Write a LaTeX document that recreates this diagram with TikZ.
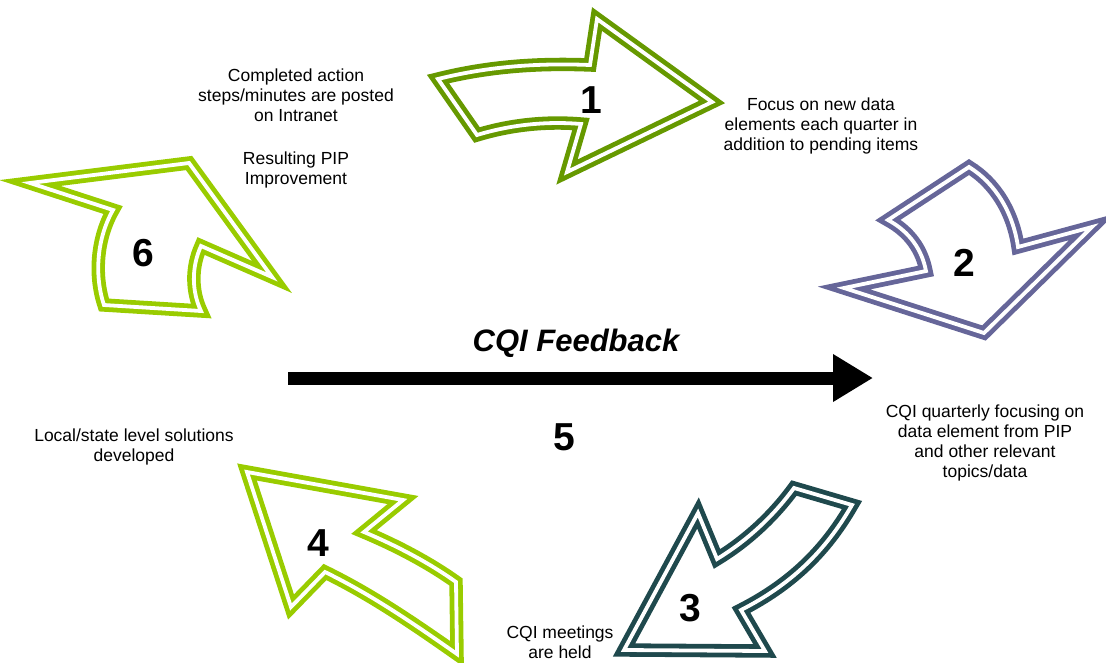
\documentclass[tikz,border=0pt]{standalone}
\usepackage{fontspec}
\setmainfont{Liberation Sans}
\usetikzlibrary{arrows.meta}
\definecolor{cqiolive}{RGB}{102,153,0}
\definecolor{cqipurple}{RGB}{102,102,153}
\definecolor{cqiteal}{RGB}{31,73,77}
\definecolor{cqilime}{RGB}{153,204,0}

\begin{document}
\begin{tikzpicture}[x=1pt, y=-1pt,
    looparrow/.style={draw=#1, double=white, double distance=3.8pt, line width=4.8pt, line join=miter},
    stepnum/.style={font=\fontsize{39}{40}\selectfont\bfseries},
    note/.style={align=center, font=\fontsize{17.5}{20}\selectfont}]

    \useasboundingbox (0,0) rectangle (1106,662);

    % Cycle arrows
    \draw[looparrow=cqiolive] (438,79) .. controls (490,66) and (540,63) .. (590,65) -- (597,19) -- (712,102)
        -- (567,172) -- (581,124) .. controls (545,121) and (510,125) .. (477,135) -- cycle;
    \draw[looparrow=cqipurple] (888,220) -- (969,167) .. controls (995,183) and (1013,212) .. (1018,247)
        -- (1092,227) -- (984,333) -- (844,288) -- (926,271) .. controls (922,250) and (910,232) .. (888,220) -- cycle;
    \draw[looparrow=cqiteal] (698,513) -- (717,559) .. controls (745,542) and (772,518) .. (794,488) -- (852,505)
        .. controls (825,552) and (790,585) .. (741,610) -- (765,651) -- (624,650) -- cycle;
    \draw[looparrow=cqilime] (247,472) -- (403,500) -- (364,532) .. controls (395,545) and (428,562) .. (456,582)
        -- (457,654) .. controls (410,621) and (370,594) .. (325,572) -- (291,607) -- cycle;
    \draw[looparrow=cqilime] (30,183) -- (189,163) -- (272,277) -- (201,246) .. controls (191,268) and (192,292) .. (201,311)
        -- (104,305) .. controls (94,275) and (97,238) .. (113,210) -- cycle;

    % Step numbers
    \node[stepnum] (num1) at (591,100) {1};
    \node[stepnum] (num2) at (964,263) {2};
    \node[stepnum] (num3) at (690,608) {3};
    \node[stepnum] (num4) at (318,543) {4};
    \node[stepnum] (num5) at (564,437) {5};
    \node[stepnum] (num6) at (143,253) {6};

    % Feedback arrow
    \coordinate (fbstart) at (288,378);
    \coordinate (fbend) at (873,378);
    \draw[line width=13pt, -{Triangle[length=40pt,width=45pt]}] (fbstart) -- (fbend);
    \node[font=\fontsize{31}{34}\selectfont\bfseries\itshape] (feedback) at (576,343) {CQI Feedback};

    % Notes
    \node[note] (posted) at (296,95) {Completed action\\steps/minutes are posted\\on Intranet};
    \node[note] (result) at (296,170) {Resulting PIP\\Improvement};
    \node[note] (focus) at (821,126) {Focus on new data\\elements each quarter in\\addition to pending items};
    \node[note] (quarterly) at (985,443) {CQI quarterly focusing on\\data element from PIP\\and other relevant\\topics/data};
    \node[note] (local) at (134,447) {Local/state level solutions\\developed};
    \node[note] (meetings) at (560,642) {CQI meetings\\are held};
\end{tikzpicture}
\end{document}
